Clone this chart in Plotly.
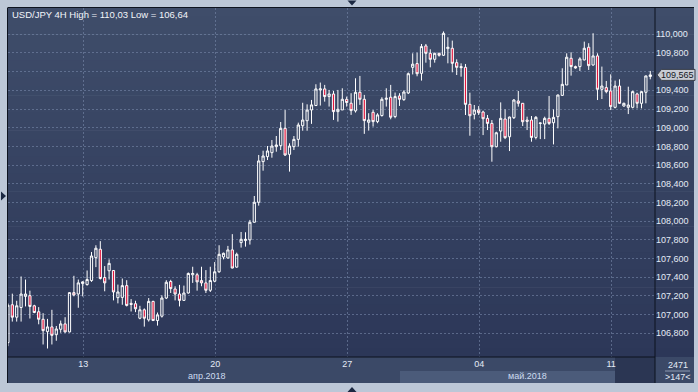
import plotly.graph_objects as go

# ---------------- data (USD/JPY, 4H candles) ----------------
open_ = [106.700, 107.105, 106.972, 107.076, 107.195, 107.202, 107.094, 107.030, 106.950, 106.817,
         106.868, 106.785, 106.843, 106.900, 106.814, 107.235, 107.220, 107.332, 107.321, 107.364,
         107.609, 107.699, 107.397, 107.469, 107.472, 107.181, 107.184, 107.310, 107.120, 107.116,
         106.961, 107.051, 106.943, 107.141, 106.936, 106.983, 107.177, 107.354, 107.274, 107.220,
         107.152, 107.231, 107.426, 107.426, 107.364, 107.339, 107.260, 107.357, 107.458, 107.616,
         107.606, 107.692, 107.508, 107.770, 107.792, 107.799, 107.988, 108.202, 108.637, 108.690,
         108.733, 108.797, 108.808, 108.993, 108.715, 108.797, 108.875, 109.021, 109.075, 109.190,
         109.237, 109.404, 109.415, 109.333, 109.361, 109.172, 109.190, 109.304, 109.262, 109.180,
         109.379, 109.304, 109.058, 109.165, 109.065, 109.130, 109.304, 109.326, 109.119, 109.340,
         109.300, 109.372, 109.646, 109.686, 109.582, 109.875, 109.796, 109.732, 109.796, 109.775,
         109.846, 109.850, 109.696, 109.654, 109.646, 109.250, 109.143, 109.189, 109.168, 109.100,
         109.046, 108.796, 108.964, 109.093, 108.903, 109.107, 109.286, 109.261, 109.082, 109.082,
         108.896, 109.046, 109.039, 109.100, 109.053, 109.118, 109.346, 109.457, 109.743, 109.654,
         109.654, 109.725, 109.861, 109.671, 109.768, 109.411, 109.429, 109.393, 109.218, 109.446,
         109.232, 109.218, 109.218, 109.361, 109.261, 109.379, 109.548]
high = [107.120, 107.224, 107.148, 107.408, 107.375, 107.256, 107.105, 107.080, 107.015, 106.954,
        107.051, 106.878, 106.936, 106.972, 107.240, 107.415, 107.375, 107.357, 107.472, 107.670,
        107.742, 107.786, 107.519, 107.591, 107.475, 107.321, 107.386, 107.368, 107.166, 107.148,
        107.094, 107.066, 107.177, 107.148, 107.022, 107.206, 107.368, 107.372, 107.303, 107.318,
        107.310, 107.451, 107.512, 107.447, 107.512, 107.476, 107.512, 107.562, 107.742, 107.663,
        107.735, 107.861, 107.663, 107.884, 107.881, 108.013, 108.269, 108.708, 108.754, 108.804,
        108.868, 108.911, 109.061, 109.189, 108.833, 108.911, 109.054, 109.267, 109.250, 109.297,
        109.465, 109.483, 109.458, 109.404, 109.393, 109.404, 109.422, 109.333, 109.369, 109.529,
        109.554, 109.351, 109.155, 109.190, 109.155, 109.326, 109.422, 109.458, 109.376, 109.369,
        109.400, 109.591, 109.796, 109.803, 109.896, 109.896, 109.839, 109.803, 109.803, 110.030,
        109.968, 109.932, 109.732, 109.689, 109.682, 109.375, 109.243, 109.232, 109.182, 109.136,
        109.082, 108.957, 109.271, 109.196, 109.118, 109.307, 109.393, 109.264, 109.118, 109.125,
        109.125, 109.053, 109.118, 109.339, 109.196, 109.354, 109.636, 109.796, 109.807, 109.664,
        109.754, 109.921, 109.904, 110.011, 109.796, 109.654, 109.500, 109.571, 109.504, 109.518,
        109.268, 109.439, 109.396, 109.375, 109.390, 109.557, 109.607]
low = [106.662, 106.925, 106.925, 106.925, 107.087, 106.958, 107.015, 106.896, 106.680, 106.637,
       106.680, 106.720, 106.806, 106.806, 106.810, 107.195, 107.073, 107.195, 107.310, 107.350,
       107.508, 107.375, 107.249, 107.375, 107.152, 107.120, 107.105, 107.087, 107.033, 107.026,
       106.950, 106.871, 106.925, 106.932, 106.882, 106.968, 107.166, 107.231, 107.152, 107.087,
       107.150, 107.224, 107.339, 107.256, 107.303, 107.231, 107.242, 107.346, 107.447, 107.591,
       107.598, 107.495, 107.501, 107.717, 107.727, 107.749, 107.985, 108.166, 108.540, 108.654,
       108.679, 108.743, 108.761, 108.697, 108.530, 108.761, 108.797, 108.968, 108.968, 109.041,
       109.237, 109.237, 109.279, 109.226, 109.083, 109.065, 109.190, 109.226, 109.137, 109.162,
       109.244, 108.934, 108.969, 109.012, 109.048, 109.119, 109.226, 109.090, 109.101, 109.233,
       109.288, 109.360, 109.570, 109.550, 109.504, 109.696, 109.646, 109.696, 109.761, 109.768,
       109.689, 109.593, 109.564, 109.546, 109.136, 108.914, 109.089, 109.136, 108.921, 108.975,
       108.636, 108.790, 108.850, 108.878, 108.750, 109.093, 109.225, 109.018, 108.975, 108.850,
       108.875, 108.878, 108.878, 109.029, 108.821, 108.993, 109.339, 109.457, 109.557, 109.632,
       109.607, 109.720, 109.618, 109.664, 109.296, 109.307, 109.368, 109.189, 109.207, 109.254,
       109.225, 109.146, 109.207, 109.207, 109.207, 109.261, 109.518]
close = [107.100, 106.972, 107.094, 107.220, 107.220, 107.087, 107.022, 106.950, 106.828, 106.868,
         106.778, 106.846, 106.900, 106.814, 107.235, 107.210, 107.339, 107.350, 107.375, 107.627,
         107.710, 107.386, 107.339, 107.548, 107.242, 107.242, 107.310, 107.098, 107.109, 107.062,
         107.051, 106.961, 107.141, 106.936, 106.997, 107.177, 107.346, 107.278, 107.220, 107.152,
         107.231, 107.440, 107.440, 107.350, 107.339, 107.260, 107.364, 107.458, 107.645, 107.656,
         107.692, 107.498, 107.645, 107.806, 107.806, 107.988, 108.202, 108.644, 108.697, 108.751,
         108.804, 108.815, 108.993, 108.708, 108.804, 108.875, 109.029, 109.082, 109.189, 109.244,
         109.415, 109.415, 109.333, 109.361, 109.172, 109.197, 109.304, 109.269, 109.183, 109.379,
         109.304, 109.076, 109.083, 109.065, 109.137, 109.304, 109.315, 109.112, 109.333, 109.304,
         109.382, 109.578, 109.680, 109.578, 109.868, 109.796, 109.732, 109.796, 109.775, 110.010,
         109.861, 109.689, 109.646, 109.643, 109.250, 109.128, 109.189, 109.161, 109.096, 109.046,
         108.796, 108.946, 109.100, 108.893, 109.114, 109.296, 109.261, 109.064, 109.068, 108.896,
         109.111, 109.050, 109.100, 109.046, 109.111, 109.350, 109.464, 109.754, 109.654, 109.639,
         109.736, 109.850, 109.664, 109.768, 109.411, 109.446, 109.386, 109.225, 109.446, 109.261,
         109.261, 109.243, 109.386, 109.261, 109.386, 109.554, 109.565]
bar_index = list(range(len(open_)))

day_tick_pos = [17.1, 47.1, 77.1, 107.1, 137.1]
day_tick_text = ["13", "20", "27", "04", "11"]
month_label_text = ["апр.2018", "май.2018"]
month_label_pos = [45.2, 118.1]
price_ticks = [106.8, 107.0, 107.2, 107.4, 107.6, 107.8, 108.0, 108.2, 108.4,
               108.6, 108.8, 109.0, 109.2, 109.4, 109.6, 109.8, 110.0]
bars_total = "2471"
bars_visible = ">147<"
last_price = close[-1]
# price labels hidden behind the current-price tag are left blank (as in the reference)
price_tick_text = ["" if abs(v - last_price) < 0.06 else f"{v:.3f}".replace(".", ",")
                   for v in price_ticks]

# ---------------- layout geometry (pixels) ----------------
W, H = 698, 392
PL, PR, PT, PB = 8, 655, 8, 357
RIGHT_EDGE, AXIS_BOTTOM = 694, 383


def fx(px):
    return (px - PL) / (PR - PL)


def fy(py):
    return (PB - py) / (PB - PT)


FONT = "Liberation Sans, Arial, sans-serif"
LABEL_COL = "#e4ebf6"

fig = go.Figure()
fig.add_trace(go.Candlestick(
    x=bar_index, open=open_, high=high, low=low, close=close,
    increasing=dict(line=dict(color="#ffffff", width=1), fillcolor="rgba(0,0,0,0)"),
    decreasing=dict(line=dict(color="#ffffff", width=1), fillcolor="#e2163d"),
    whiskerwidth=0, showlegend=False, hoverinfo="skip",
))

shapes = []
# gradient background of chart + price scale
top_c = (63, 77, 106)
bot_c = (44, 55, 88)
N = 40
for k in range(N):
    t = (k + 0.5) / N
    c = tuple(round(top_c[j] + (bot_c[j] - top_c[j]) * t) for j in range(3))
    y0 = PT + k * (PB - PT) / N
    y1 = PT + (k + 1) * (PB - PT) / N + 0.6
    shapes.append(dict(type="rect", xref="paper", yref="paper", layer="below",
                       x0=fx(PL), x1=fx(RIGHT_EDGE), y0=fy(min(y1, PB)), y1=fy(y0),
                       fillcolor="rgb(%d,%d,%d)" % c, line=dict(width=0)))
# time scale background
shapes.append(dict(type="rect", xref="paper", yref="paper", layer="below",
                   x0=fx(PL), x1=fx(RIGHT_EDGE), y0=fy(AXIS_BOTTOM), y1=fy(PB),
                   fillcolor="#3b4967", line=dict(width=0)))
# highlighted month band
shapes.append(dict(type="rect", xref="paper", yref="paper", layer="below",
                   x0=fx(400), x1=fx(615), y0=fy(AXIS_BOTTOM), y1=fy(371),
                   fillcolor="#4b5b7a", line=dict(width=0)))
# scroller block
shapes.append(dict(type="rect", xref="paper", yref="paper", layer="below",
                   x0=fx(615), x1=fx(PR), y0=fy(AXIS_BOTTOM), y1=fy(PB),
                   fillcolor="#2b3653", line=dict(width=0)))
# dark frame lines
dark = "#0d131f"
for (xa, ya, xb, yb) in [(PL, 7.5, RIGHT_EDGE, 7.5), (PL - 0.5, 7.5, PL - 0.5, AXIS_BOTTOM),
                         (PR, 7.5, PR, AXIS_BOTTOM), (PL, PB, PR, PB)]:
    shapes.append(dict(type="line", xref="paper", yref="paper", layer="above",
                       x0=fx(xa), x1=fx(xb), y0=fy(ya), y1=fy(yb),
                       line=dict(color=dark, width=1)))
# separator in bars box
shapes.append(dict(type="line", xref="paper", yref="paper", layer="above",
                   x0=fx(665), x1=fx(690), y0=fy(371), y1=fy(371),
                   line=dict(color="#8d9ab2", width=1)))
# decorative triangles on the frame
tri = "#1b2842"


def path_px(points):
    return "M " + " L ".join("%f,%f" % (fx(a), fy(b)) for a, b in points) + " Z"


shapes.append(dict(type="path", xref="paper", yref="paper", layer="above",
                   path=path_px([(347.5, 0.5), (356.5, 0.5), (352, 5.5)]),
                   fillcolor=tri, line=dict(width=0)))
shapes.append(dict(type="path", xref="paper", yref="paper", layer="above",
                   path=path_px([(347.5, 392), (356.5, 392), (352, 387)]),
                   fillcolor=tri, line=dict(width=0)))
shapes.append(dict(type="path", xref="paper", yref="paper", layer="above",
                   path=path_px([(1, 191.5), (1, 200.5), (6, 196)]),
                   fillcolor=tri, line=dict(width=0)))
# current price tag
shapes.append(dict(type="path", xref="paper", yref="y", layer="above",
                   xsizemode="pixel", ysizemode="pixel", xanchor=1, yanchor=last_price,
                   path="M 2,0 L 6.5,-5.5 L 40,-5.5 L 40,5.5 L 6.5,5.5 Z",
                   fillcolor="#c8ccd4", line=dict(color="#3a3f4a", width=1)))

annotations = []
annotations.append(dict(
    xref="paper", yref="paper", x=fx(10), y=fy(15), xanchor="left", yanchor="middle",
    text=f"USD/JPY 4H High = {max(high):.2f} Low = {min(low):.2f}".replace(".", ","),
    showarrow=False, font=dict(family=FONT, size=9.5, color="#f2f5fa")))
for pos, txt in zip(month_label_pos, month_label_text):
    annotations.append(dict(xref="x", yref="paper", x=pos, y=fy(376), xanchor="center",
                            yanchor="middle", text=txt, showarrow=False,
                            font=dict(family=FONT, size=9, color="#cddcf0")))
annotations.append(dict(xref="paper", yref="paper", x=fx(677.5), y=fy(364.5), xanchor="center",
                        yanchor="middle", text=bars_total, showarrow=False,
                        font=dict(family=FONT, size=9, color=LABEL_COL)))
annotations.append(dict(xref="paper", yref="paper", x=fx(677.5), y=fy(377), xanchor="center",
                        yanchor="middle", text=bars_visible, showarrow=False,
                        font=dict(family=FONT, size=9, color=LABEL_COL)))
annotations.append(dict(xref="paper", yref="y", x=fx(677), y=last_price, xanchor="center",
                        yanchor="middle", text=f"{last_price:.3f}".replace(".", ","),
                        showarrow=False, font=dict(family=FONT, size=9, color="#15181e")))

grid_col = "rgba(120,136,170,0.6)"
fig.update_layout(
    width=W, height=H, autosize=False,
    margin=dict(l=PL, r=W - PR, t=PT, b=H - PB, pad=0),
    paper_bgcolor="#bcc7d7", plot_bgcolor="rgba(0,0,0,0)",
    boxgap=0.5, boxgroupgap=0,
    shapes=shapes, annotations=annotations,
    xaxis=dict(range=[0.023, 147.07], tickmode="array", tickvals=day_tick_pos,
               ticktext=day_tick_text, showgrid=True, gridcolor=grid_col, gridwidth=1,
               griddash="2px,2px", zeroline=False, showline=False, ticks="",
               tickfont=dict(family=FONT, size=9, color=LABEL_COL),
               rangeslider=dict(visible=False), fixedrange=True),
    yaxis=dict(side="right", range=[106.546, 110.281], tickmode="array", tickvals=price_ticks,
               ticktext=price_tick_text, showgrid=True, gridcolor=grid_col, gridwidth=1,
               griddash="2px,2px", zeroline=False, showline=False, ticks="",
               tickfont=dict(family=FONT, size=9, color=LABEL_COL), fixedrange=True),
    showlegend=False,
)

fig.write_html("out.html", config={"displayModeBar": False},
               post_script="document.body.style.margin='0';document.body.style.overflow='hidden';")
